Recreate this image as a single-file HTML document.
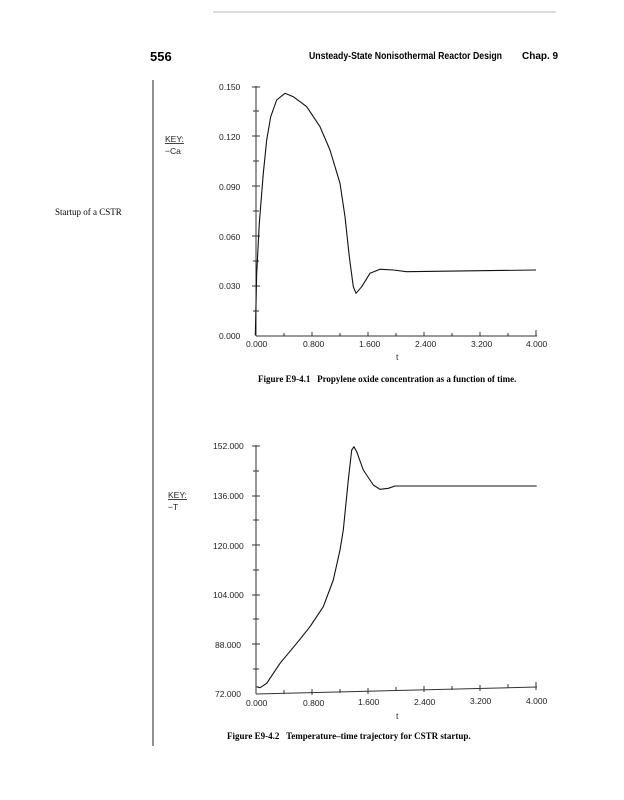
<!DOCTYPE html>
<html><head><style>
body{margin:0;background:#fff;}
svg{display:block}
</style></head><body>
<svg width="624" height="800" xmlns="http://www.w3.org/2000/svg" font-family="Liberation Sans, sans-serif">
<line x1="213" y1="12" x2="556" y2="12" stroke="#bbb" stroke-width="1"/>
<text x="150" y="61" font-size="13" font-weight="bold">556</text>
<text x="309" y="59" font-size="10" font-weight="bold" textLength="193" lengthAdjust="spacingAndGlyphs">Unsteady-State Nonisothermal Reactor Design</text>
<text x="522" y="59" font-size="10" font-weight="bold">Chap. 9</text>
<line x1="153" y1="80" x2="153" y2="746" stroke="#222" stroke-width="1"/>
<text x="55" y="215" font-size="9" font-family="Liberation Serif, serif">Startup of a CSTR</text>

<!-- top chart -->
<g font-size="8.5" fill="#222">
<text x="165" y="142" text-decoration="underline">KEY:</text>
<text x="165" y="154">−Ca</text>
<text x="219" y="90">0.150</text>
<text x="219" y="140">0.120</text>
<text x="219" y="190">0.090</text>
<text x="219" y="240">0.060</text>
<text x="219" y="289">0.030</text>
<text x="219" y="339">0.000</text>
<text x="246" y="347">0.000</text>
<text x="303" y="347">0.800</text>
<text x="359" y="347">1.600</text>
<text x="415" y="347">2.400</text>
<text x="471" y="347">3.200</text>
<text x="526" y="347">4.000</text>
<text x="396" y="360">t</text>
</g>
<g stroke="#333" stroke-width="1" fill="none">
<line x1="256" y1="86" x2="256" y2="336"/>
<line x1="256" y1="336" x2="537" y2="336"/>
<path d="M252 87h8M252 136h8M252 186h8M252 236h8M252 286h8M253 111h6M253 161h6M253 211h6M253 261h6M253 311h6"/>
<path d="M312 332v4M368 332v4M424 332v4M480 332v4M536 330v6M284 333v3M340 333v3M396 333v3M452 333v3M508 333v3"/>
</g>
<path d="M255.3 335.3 L256.7 273.3 L259.3 223.3 L263.3 173.3 L266.7 140 L270.7 116.7 L276.7 100 L285 93.3 L293.3 96.7 L306.7 106.7 L320 126.7 L330 150 L340 183.3 L345 216.7 L349.3 256.7 L353.3 286.7 L356 293.3 L361.7 286.7 L370 273.3 L380 269.3 L393.3 270 L406.7 271.7 L536 270" fill="none" stroke="#111" stroke-width="1.1" stroke-linejoin="round"/>
<text x="258" y="382" font-size="9" font-weight="bold" font-family="Liberation Serif, serif">Figure E9-4.1&#160;&#160;&#160;Propylene oxide concentration as a function of time.</text>

<!-- bottom chart -->
<g font-size="8.5" fill="#222">
<text x="168" y="498" text-decoration="underline">KEY:</text>
<text x="168" y="510">−T</text>
<text x="213" y="449">152.000</text>
<text x="213" y="499">136.000</text>
<text x="213" y="549">120.000</text>
<text x="213" y="598">104.000</text>
<text x="215" y="648">88.000</text>
<text x="215" y="697">72.000</text>
<text x="246" y="706">0.000</text>
<text x="303" y="706">0.800</text>
<text x="358" y="705">1.600</text>
<text x="414" y="705">2.400</text>
<text x="470" y="704">3.200</text>
<text x="526" y="704">4.000</text>
<text x="396" y="719">t</text>
</g>
<g stroke="#333" stroke-width="1" fill="none">
<line x1="256" y1="445" x2="256" y2="694"/>
<line x1="256" y1="694" x2="537" y2="687"/>
<path d="M252 446h8M252 496h8M252 545h8M252 595h8M252 644h8M253 471h6M253 520h6M253 570h6M253 619h6M253 669h6"/>
<path d="M312 689v6M368 688v6M424 686v6M480 685v6M536 682v8M284 690v4M340 689v4M396 687v4M452 686v4M508 684v4"/>
</g>
<path d="M256.7 686.7 L260 687.7 L266.7 683.3 L280 663.3 L296.7 643.3 L310 626.7 L323.3 606.7 L333.3 580 L340 550 L343.3 530 L348.3 480 L351.7 450 L354 446.7 L356.7 451.7 L363.3 470 L373.3 485 L380 489.3 L388.3 488.3 L395 486 L536.7 486" fill="none" stroke="#111" stroke-width="1.1" stroke-linejoin="round"/>
<text x="227" y="739" font-size="9" font-weight="bold" font-family="Liberation Serif, serif">Figure E9-4.2&#160;&#160;&#160;Temperature–time trajectory for CSTR startup.</text>
</svg>
</body></html>
